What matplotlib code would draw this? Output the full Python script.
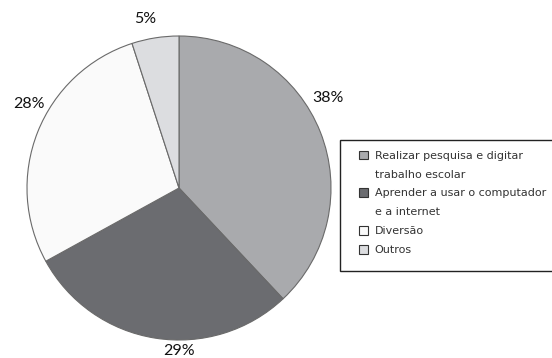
import matplotlib.pyplot as plt
from matplotlib.patches import Patch, Rectangle

# dados do grafico
categorias = ['Realizar pesquisa e digitar\ntrabalho escolar',
              'Aprender a usar o computador\ne a internet',
              'Diversão',
              'Outros']
valores = [38, 29, 28, 5]
cores = ['#a9aaad', '#6b6c70', '#fafafa', '#dcdde0']
rotulos = ['38%', '29%', '28%', '5%']
pos_rotulos = [(0.98, 0.59), (0.0, -1.07), (-0.99, 0.55), (-0.22, 1.11)]

plt.rcParams['font.family'] = ['Lato', 'DejaVu Sans']

W, H = 552, 358
fig = plt.figure(figsize=(W / 100, H / 100), dpi=100)
cx, cy, r = 179, 188, 152
ax = fig.add_axes([(cx - r) / W, (H - cy - r) / H, 2 * r / W, 2 * r / H])

ax.pie(valores, colors=cores, startangle=90, counterclock=False,
       wedgeprops=dict(edgecolor='#6a6a6a', linewidth=0.8))
ax.set_xlim(-1, 1)
ax.set_ylim(-1, 1)
ax.set_aspect('equal')
ax.axis('off')

for txt, (x, y) in zip(rotulos, pos_rotulos):
    ax.text(x, y, txt, ha='center', va='center', fontsize=11.5,
            color='#111111', clip_on=False)

# moldura da legenda (sai pela borda direita)
fig.patches.append(Rectangle((340 / W, 1 - 271 / H), 230 / W, 131 / H,
                             transform=fig.transFigure, facecolor='white',
                             edgecolor='#222222', linewidth=1.0, zorder=1))

# uma linha por entrada; linhas de continuacao sem marcador
handles, linhas = [], []
for cat, c in zip(categorias, cores):
    for i, parte in enumerate(cat.split('\n')):
        if i == 0:
            handles.append(Patch(facecolor=c, edgecolor='#333333', linewidth=0.8))
        else:
            handles.append(Patch(facecolor='none', edgecolor='none'))
        linhas.append(parte)

leg = fig.legend(handles, linhas, loc='upper left',
                 bbox_to_anchor=(353 / W, 1 - 145 / H),
                 prop={'family': 'DejaVu Sans', 'size': 8},
                 frameon=False, handlelength=0.85,
                 handleheight=0.85, handletextpad=0.6, labelspacing=0.77,
                 borderpad=0.0)
for t in leg.get_texts():
    t.set_color('#333333')

fig.savefig('out.png', dpi=100)
